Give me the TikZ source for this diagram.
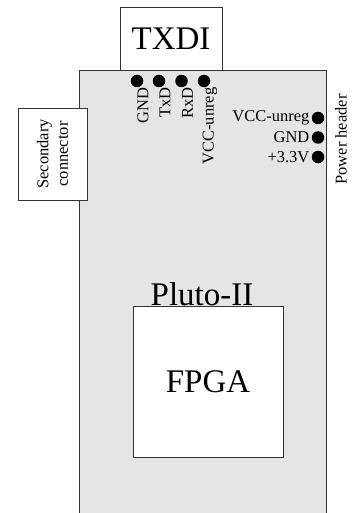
\documentclass[tikz,border=0pt]{standalone}
\usepackage{fontspec}
\setmainfont{Liberation Serif}
\usepackage{tikz}
\usetikzlibrary{positioning}

\tikzset{
  box/.style={draw=black!80, fill=white, line width=0.8pt, inner sep=0pt},
  pin/.style={circle, fill=black, inner sep=0pt, minimum size=12.5pt},
  lbl/.style={font=\fontsize{16.5}{19.5}\selectfont, inner sep=0pt},
  big/.style={font=\fontsize{33}{36}\selectfont}
}

\begin{document}
\begin{tikzpicture}[x=1pt, y=-1pt]
        \useasboundingbox (0,0) rectangle (352,513);

        % Board: Pluto-II
        \fill[gray!20] (79,70) rectangle (326,520);
        \draw[black!80, line width=0.8pt] (79,520) -- (79,70) -- (326,70) -- (326,520);

        % TXDI module on top
        \node[box, big, minimum width=102pt, minimum height=63pt] (txdi) at (171,38.5) {TXDI};

        % Secondary connector
        \node[box, lbl, rotate=90, align=center, minimum width=92pt, minimum height=69pt] (sec) at (52.5,154) {Secondary\\connector};

        % TXDI pins
        \foreach \n/\x/\name in {1/137/GND, 2/159/TxD, 3/181.5/RxD, 4/204/VCC-unreg} {
          \node[pin] (t\n) at (\x,81) {};
          \node[lbl, rotate=90, anchor=east, yshift=-6pt] (tl\n) at (t\n.south) {\name};
        }

        % Power header pins
        \foreach \n/\y/\name in {1/118/VCC-unreg, 2/137.5/GND, 3/157/+3.3V} {
          \node[pin] (p\n) at (318,\y) {};
          \node[lbl, anchor=east, xshift=-2pt] (pl\n) at (p\n.west) {\name};
        }
        \node[lbl, rotate=90] (power) at (341,139.5) {Power header};

        % FPGA
        \node[box, big, minimum width=150pt, minimum height=151pt] (fpga) at (208,381.5) {FPGA};
        \node[big, inner sep=0pt, anchor=base] (pluto) at (202,305) {Pluto-II};
    \end{tikzpicture}
\end{document}
